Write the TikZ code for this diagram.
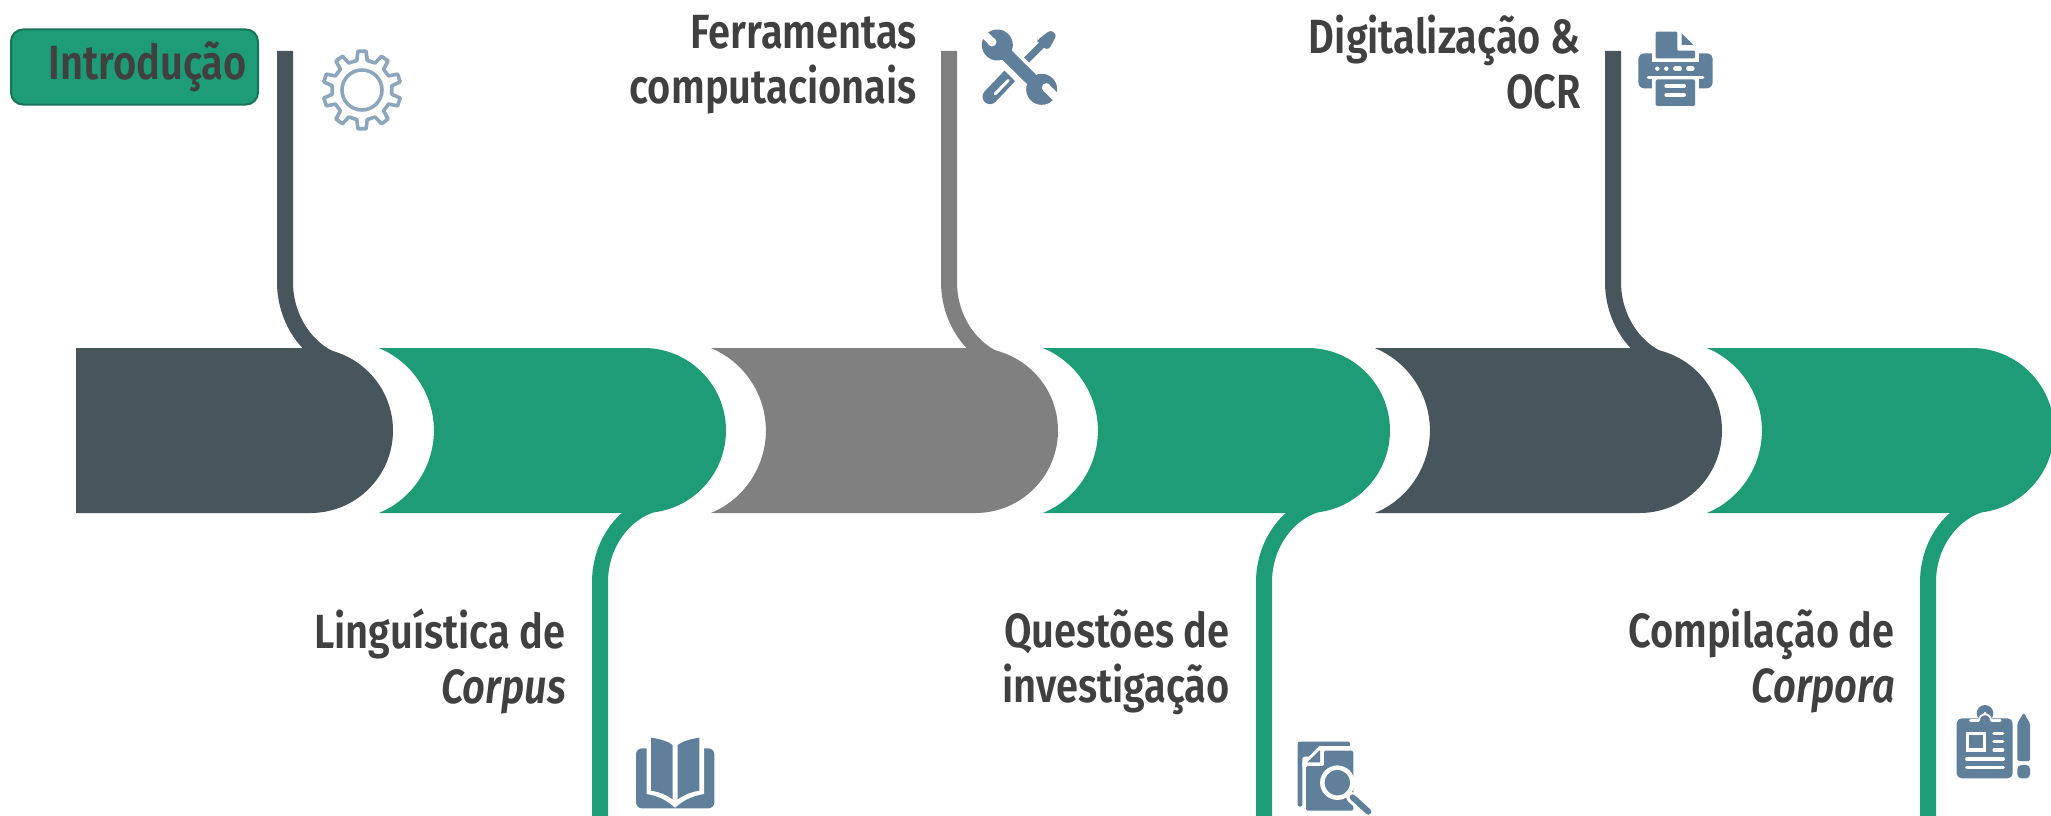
\documentclass[tikz,border=0pt]{standalone}
\usepackage{fontspec}
\setmainfont[FakeStretch=0.83,BoldFont={Fira Sans SemiBold},BoldItalicFont={Fira Sans SemiBold Italic}]{Fira Sans}
\definecolor{slate}{HTML}{47555C}
\definecolor{teal}{HTML}{1E9B77}
\definecolor{tealdark}{HTML}{17735A}
\definecolor{midgray}{HTML}{808080}
\definecolor{ink}{HTML}{404040}
\definecolor{iconblue}{HTML}{5F7F9B}
\definecolor{gearblue}{HTML}{8CA7BD}
\tikzset{
  lbl/.style={anchor=north east,align=right,inner sep=0pt,text=ink,font=\fontsize{48}{55}\selectfont\bfseries},
  stem/.style={line width=16pt},
  ic/.style={fill=iconblue,draw=none},
  wh/.style={fill=white,draw=none},
  icline/.style={draw=iconblue,line cap=round},
  whline/.style={draw=white,line cap=round},
  zoomed/.style 2 args={shift={(#1,#2)},x=0.33333pt,y=-0.33333pt},
}
% first block: flat left end
\newcommand{\flatblock}[2]{% right x, colour
  \fill[#2] (76,348) -- ({#1-82.5},348) arc[start angle=90,end angle=-90,radius=82.5pt] -- (76,513) -- cycle;}
% following blocks: tip x, right x, colour
\newcommand{\notchblock}[3]{%
  \fill[#3] (#1,348) -- ({#2-82.5},348) arc[start angle=90,end angle=-90,radius=82.5pt] -- (#1,513) arc[start angle=-67.3,end angle=67.3,radius=89.4pt] -- cycle;}
\begin{document}
\begin{tikzpicture}[x=1pt,y=-1pt]
\useasboundingbox (0,0) rectangle (2051,816);
\clip (0,0) rectangle (2051,816);

% blocks
\flatblock{393}{slate}
\notchblock{379}{726}{teal}
\notchblock{711}{1058}{midgray}
\notchblock{1043}{1390}{teal}
\notchblock{1375}{1722}{slate}
\notchblock{1707}{2054}{teal}

% connector starts
\coordinate (t1) at (285,51);
\coordinate (t1b) at (285,282);
\coordinate (t2) at (949,51);
\coordinate (t2b) at (949,282);
\coordinate (t3) at (1613,51);
\coordinate (t3b) at (1613,282);
\coordinate (b1) at (600,816);
\coordinate (b1b) at (600,582);
\coordinate (b2) at (1264,816);
\coordinate (b2b) at (1264,582);
\coordinate (b3) at (1928,816);
\coordinate (b3b) at (1928,582);

\draw[stem,slate] (t1) -- (t1b) arc[start angle=180,end angle=250,x radius=76pt,y radius=84pt];
\draw[stem,midgray] (t2) -- (t2b) arc[start angle=180,end angle=250,x radius=76pt,y radius=84pt];
\draw[stem,slate] (t3) -- (t3b) arc[start angle=180,end angle=250,x radius=76pt,y radius=84pt];
\draw[stem,teal] (b1) -- (b1b) arc[start angle=180,end angle=102,x radius=73pt,y radius=81pt];
\draw[stem,teal] (b2) -- (b2b) arc[start angle=180,end angle=102,x radius=73pt,y radius=81pt];
\draw[stem,teal] (b3) -- (b3b) arc[start angle=180,end angle=102,x radius=73pt,y radius=81pt];

% badge
\node[draw=tealdark,fill=teal,line width=2pt,rounded corners=12pt,minimum width=247pt,minimum height=75pt,inner sep=0pt] (badge) at (134.5,67) {};
\node[anchor=base east,inner sep=0pt,text=ink,font=\fontsize{48}{54}\selectfont\bfseries] (intro) at (247,79) {Introdução};

% labels
\node[lbl] (l1) at (917,15) {Ferramentas\\computacionais};
\node[lbl] (l2) at (1581,15) {Digitalização \&\\OCR};
\node[lbl] (l3) at (566,609) {Linguística de\\\itshape Corpus};
\node[lbl] (l4) at (1230,609) {Questões de\\investigação};
\node[lbl] (l5) at (1895,609) {Compilação de\\\itshape Corpora};

% gear
\begin{scope}[shift={(362,90)}]
\draw[gearblue,line width=3.6pt,line join=round]
  (8:30pt) \foreach \a in {0,36,...,324} {
    -- ({\a+8}:30pt) -- ({\a+12}:39pt) -- ({\a+24}:39pt) -- ({\a+28}:30pt)
  } -- cycle;
\draw[gearblue,line width=3.6pt] (0,0) circle[radius=20pt];
\end{scope}

% wrench and screwdriver
\begin{scope}[zoomed={950}{0}]
\fill[ic,rounded corners=3pt] (262,120) -- (302,90) -- (320,105) -- (297,148) -- (283,146) -- (262,125) -- cycle;
\draw[icline,line cap=butt,line width=7pt] (280,130) -- (230,180);
\draw[icline,line cap=butt,line width=15pt] (120,290) -- (182,225);
\fill[ic] (120,290) circle[radius=7.5pt];
\draw[whline,line width=3pt] (135,282) -- (175,241);
\fill[ic] (142,135) circle[radius=15.5pt] (275,268) circle[radius=15.5pt];
\draw[whline,line cap=butt,line width=20pt] (170,175) -- (240,245);
\draw[icline,line cap=butt,line width=13pt] (150,145) -- (265,258);
\fill[wh] (135,118) -- (105,88) -- (88,105) -- (118,135) -- cycle;
\fill[wh] (126,126) circle[radius=4.5pt];
\fill[wh] (280,272) -- (315,307) -- (335,290) -- (298,255) -- cycle;
\fill[wh] (289,263) circle[radius=4.5pt];
\end{scope}

% printer
\begin{scope}[zoomed={1620}{10}]
\fill[ic,rounded corners=6pt] (55,130) rectangle (278,235);
\fill[wh] (95,120) rectangle (237,157);
\fill[ic,rounded corners=1pt] (107,65) -- (172,65) -- (172,122) -- (225,122) -- (225,145) -- (107,145) -- cycle;
\fill[ic] (185,70) -- (220,105) -- (185,105) -- cycle;
\fill[wh] (112,176) circle[radius=2.2pt] (139,176) circle[radius=2.2pt];
\draw[whline,line width=4.5pt] (166,176) -- (179,176);
\draw[whline,line width=4.5pt] (205,176) -- (217,176);
\draw[whline,line width=3.5pt] (85,202) -- (248,202);
\fill[wh] (95,202) rectangle (237,240);
\fill[ic,rounded corners=1.5pt] (107,208) rectangle (225,288);
\draw[whline,line width=4pt] (139,228) -- (192,228);
\draw[whline,line width=4pt] (139,255) -- (192,255);
\end{scope}

% book
\begin{scope}[zoomed={620}{720}]
\fill[ic,rounded corners=6pt] (48,85) rectangle (283,265);
\fill[wh] (80,70) -- (80,222) .. controls (120,228) and (145,245) .. (165,263) .. controls (185,245) and (212,228) .. (252,222) -- (252,70) -- cycle;
\fill[ic] (93,53) .. controls (125,58) and (145,65) .. (158,75) -- (158,238) .. controls (140,225) and (120,216) .. (93,212) -- cycle;
\fill[ic] (173,75) .. controls (186,65) and (206,58) .. (238,53) -- (238,212) .. controls (211,216) and (191,225) .. (173,238) -- cycle;
\end{scope}

% document and magnifier
\begin{scope}[zoomed={1280}{720}]
\fill[ic,rounded corners=2pt] (53,65) -- (210,65) -- (210,110) -- (67,110) -- (67,260) -- (53,260) -- cycle;
\fill[wh] (67,130) -- (118,78) -- (211,78) -- (211,140) -- (67,140) -- cycle;
\fill[ic] (82,127) -- (120,90) -- (120,127) -- cycle;
\fill[ic,rounded corners=1.5pt] (132,92) -- (220,92) -- (220,272) -- (78,272) -- (78,138) -- (132,138) -- cycle;
\draw[white,line width=11pt,line cap=round] (215,232) -- (265,275);
\draw[icline,line width=6pt] (218,232) -- (265,275);
\draw[white,line width=4.5pt,fill=iconblue] (172,188) circle[radius=15pt];
\end{scope}

% clipboard and pencil
\begin{scope}[zoomed={1930}{690}]
\fill[ic,rounded corners=5pt] (80,85) rectangle (248,265);
\fill[ic] (165,70) circle[radius=8.3pt];
\fill[wh] (165,70) circle[radius=1.6pt];
\draw[whline,line width=3pt] (122,92) -- (145,92);
\draw[whline,line width=3pt] (185,92) -- (210,92);
\draw[white,line width=1.8pt] (147,91) arc[start angle=180,end angle=0,radius=6pt];
\fill[wh] (108,125) rectangle (168,185);
\fill[ic] (118,135) rectangle (158,175);
\draw[whline,line width=3.2pt] (192,130) -- (218,130);
\draw[whline,line width=3.2pt] (192,155) -- (218,155);
\draw[whline,line width=3.2pt] (192,180) -- (218,180);
\draw[whline,line width=3.2pt] (110,207) -- (220,207);
\draw[whline,line width=3.2pt] (110,232) -- (220,232);
\fill[ic,rounded corners=1.5pt] (262,100) -- (281,68) -- (300,100) -- (300,213) -- (262,213) -- cycle;
\fill[ic,rounded corners=4pt] (262,225) -- (300,225) -- (300,265) -- (262,265) -- cycle;
\end{scope}
\end{tikzpicture}
\end{document}
